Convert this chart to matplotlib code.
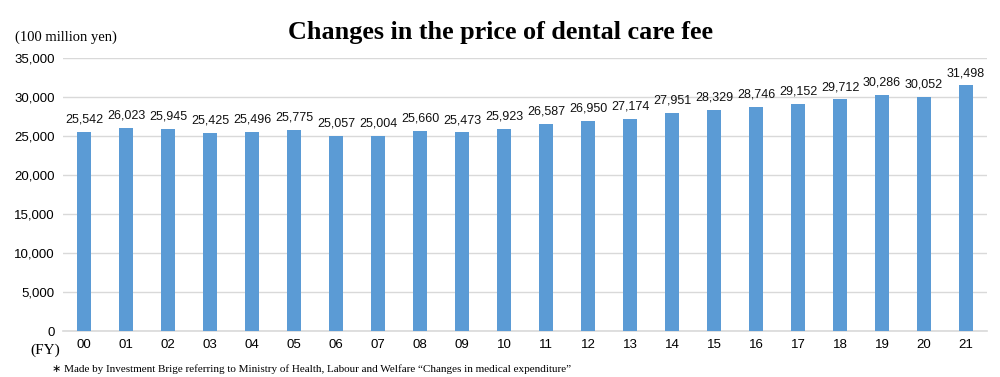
import matplotlib.pyplot as plt
import numpy as np

years = ['00', '01', '02', '03', '04', '05', '06', '07', '08', '09', '10',
         '11', '12', '13', '14', '15', '16', '17', '18', '19', '20', '21']
values = [25542, 26023, 25945, 25425, 25496, 25775, 25057, 25004, 25660, 25473, 25923,
          26587, 26950, 27174, 27951, 28329, 28746, 29152, 29712, 30286, 30052, 31498]
yticks = [0, 5000, 10000, 15000, 20000, 25000, 30000, 35000]

fig = plt.figure(figsize=(10, 3.77), dpi=100)
ax = fig.add_axes([0.063, 0.122, 0.924, 0.724])

x = np.arange(len(years))
ax.bar(x, values, width=0.31, color='#5B9BD5', zorder=3)
for xi, v in zip(x, values):
    ax.text(xi, v + 800, f'{v:,}', ha='center', va='bottom', fontsize=9,
            family='Liberation Sans', color='#111111')

ax.set_xlim(-0.5, len(years) - 0.5)
ax.set_ylim(0, 35000)
ax.set_yticks(yticks)
ax.set_yticklabels([f'{t:,}' for t in yticks], family='Liberation Sans', fontsize=9.5)
ax.set_xticks(x)
ax.set_xticklabels(years, family='Liberation Sans', fontsize=9.5)
ax.tick_params(length=0, pad=6)
ax.yaxis.grid(True, color='#d9d9d9', linewidth=1, zorder=0)
for s in ['top', 'right', 'left']:
    ax.spines[s].set_visible(False)
ax.spines['bottom'].set_color('#d9d9d9')
ax.spines['bottom'].set_linewidth(1.2)

fig.text(0.5, 0.915, 'Changes in the price of dental care fee', ha='center', va='center',
         fontsize=18.8, fontweight='bold', family='Liberation Serif')
fig.text(0.015, 0.902, '(100 million yen)', ha='left', va='center',
         fontsize=10.5, family='Liberation Serif')
fig.text(0.03, 0.072, '(FY)', ha='left', va='center', fontsize=11, family='Liberation Serif')
fig.text(0.052, 0.022, '\u2217 Made by Investment Brige referring to Ministry of Health, Labour and Welfare \u201cChanges in medical expenditure\u201d',
         ha='left', va='center', fontsize=8, family=['Liberation Serif', 'DejaVu Sans'])

fig.savefig('out.png')
